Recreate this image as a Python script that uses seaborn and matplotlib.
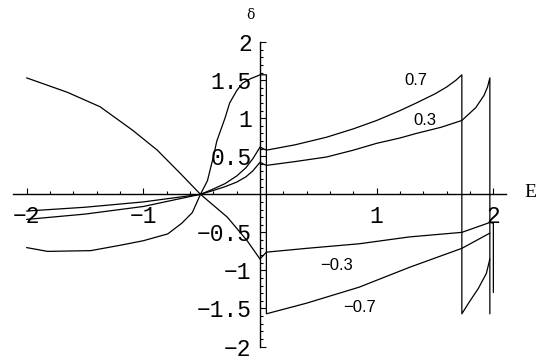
import pandas as pd
import seaborn as sns
import matplotlib.pyplot as plt
import numpy as np

# phase shift curves delta(E)
# (vertical pieces are the jumps that Mathematica joins up)
e_07 = [-2.0, -1.5, -1.0, -0.51, -0.4, -0.3, -0.2, -0.12, -0.06, 0.0,
        0.055, 0.3, 0.57, 0.8, 1.0, 1.2, 1.34, 1.5, 1.6, 1.68, 1.73,
        1.73, 1.80, 1.87, 1.94, 1.97]
d_07 = [-0.33, -0.26, -0.16, 0.0, 0.07, 0.14, 0.24, 0.35, 0.47, 0.62,
        0.58, 0.65, 0.75, 0.86, 0.97, 1.10, 1.20, 1.32, 1.41, 1.50, 1.57,
        -1.57, -1.40, -1.24, -1.04, -0.85]

e_03 = [-2.0, -1.5, -1.0, -0.51, -0.4, -0.3, -0.2, -0.12, -0.06, 0.0,
        0.055, 0.3, 0.57, 0.8, 1.0, 1.2, 1.34, 1.55, 1.73, 1.85, 1.92,
        1.95, 1.97, 1.97]
d_03 = [-0.22, -0.17, -0.10, 0.0, 0.05, 0.10, 0.16, 0.23, 0.31, 0.42,
        0.38, 0.43, 0.49, 0.58, 0.67, 0.74, 0.80, 0.88, 0.97, 1.14, 1.30,
        1.41, 1.53, -1.57]

e_m03 = [-2.0, -1.65, -1.37, -1.09, -0.88, -0.68, -0.51, -0.28, -0.11, 0.0,
         0.055, 0.4, 0.85, 1.28, 1.73, 1.97, 2.0, 2.0]
d_m03 = [1.53, 1.34, 1.15, 0.84, 0.58, 0.27, 0.0, -0.30, -0.61, -0.85,
         -0.76, -0.71, -0.65, -0.56, -0.50, -0.37, -0.38, -1.29]

e_m07 = [-2.0, -1.82, -1.45, -1.2, -1.0, -0.79, -0.67, -0.58, -0.51, -0.45,
         -0.4, -0.37, -0.3, -0.26, -0.2, -0.15, -0.08, -0.03, 0.0,
         0.055, 0.055, 0.4, 0.85, 1.28, 1.73, 1.97]
d_m07 = [-0.70, -0.75, -0.74, -0.67, -0.61, -0.52, -0.38, -0.24, 0.0, 0.18,
         0.49, 0.70, 1.00, 1.20, 1.36, 1.46, 1.52, 1.55, 1.57,
         1.57, -1.57, -1.43, -1.22, -0.96, -0.71, -0.51]

curve_labels = ["0.7", "0.3", "\u22120.3", "\u22120.7"]
label_pos = [(1.337, 1.50), (1.414, 0.976), (0.66, -0.94), (0.857, -1.49)]

x_major = [-2, -1, 1, 2]
y_major = [-2, -1.5, -1, -0.5, 0.5, 1, 1.5, 2]

sns.set_style("white")

fig = plt.figure(figsize=(5.37, 3.6), dpi=100)
ax = fig.add_axes([0, 0, 1, 1])

for i, (e, d) in enumerate([(e_07, d_07), (e_03, d_03), (e_m03, d_m03), (e_m07, d_m07)]):
    df = pd.DataFrame({"E": e, "delta": d})
    sns.lineplot(data=df, x="E", y="delta", sort=False, estimator=None,
                 color="black", lw=0.9, ax=ax)

ax.set_xlim(-2.228, 2.374)
ax.set_ylim(-2.177, 2.553)

# axes through the origin, Mathematica style
for s in ["top", "right"]:
    ax.spines[s].set_visible(False)
ax.spines["left"].set_position(("data", 0))
ax.spines["bottom"].set_position(("data", 0))
ax.spines["left"].set_bounds(-2, 2)
ax.spines["bottom"].set_bounds(-2.12, 2.11)
for s in ["left", "bottom"]:
    ax.spines[s].set_color("black")
    ax.spines[s].set_linewidth(1.0)

ax.set_xticks(x_major)
ax.set_xticklabels([str(v).replace("-", "\u2212") for v in x_major])
ax.set_yticks(y_major)
ax.set_yticklabels([("%g" % v).replace("-", "\u2212") for v in y_major])
ax.set_xticks([v for v in np.round(np.arange(-2.0, 2.01, 0.2), 2) if v not in (-2, -1, 0, 1, 2)], minor=True)
ax.set_yticks([v for v in np.round(np.arange(-2.0, 2.01, 0.1), 2) if round(v * 2) != v * 2], minor=True)

# seaborn's white style switches the tick marks off, turn them back on
ax.tick_params(axis="x", which="both", bottom=True, direction="in", color="black", width=0.8)
ax.tick_params(axis="y", which="both", left=True, direction="in", color="black", width=0.8)
ax.tick_params(axis="x", which="major", length=4.5, pad=8)
ax.tick_params(axis="y", which="major", length=4.5, pad=6)
ax.tick_params(which="minor", length=2.5)
for lab in ax.get_xticklabels() + ax.get_yticklabels():
    lab.set_fontfamily("Liberation Mono")
    lab.set_fontsize(16.5)
    lab.set_color("black")

ax.set_xlabel("")
ax.set_ylabel("")

for txt, (x, y) in zip(curve_labels, label_pos):
    ax.text(x, y, txt, ha="center", va="center", fontsize=12,
            family="Liberation Sans", color="black")

ax.text(2.314, 0.03, "E", ha="center", va="center", fontsize=14,
        family="Liberation Serif", color="black")
ax.text(-0.086, 2.356, "\u03b4", ha="center", va="center", fontsize=10,
        family="DejaVu Serif", color="black")

plt.savefig("out.png", dpi=100)
